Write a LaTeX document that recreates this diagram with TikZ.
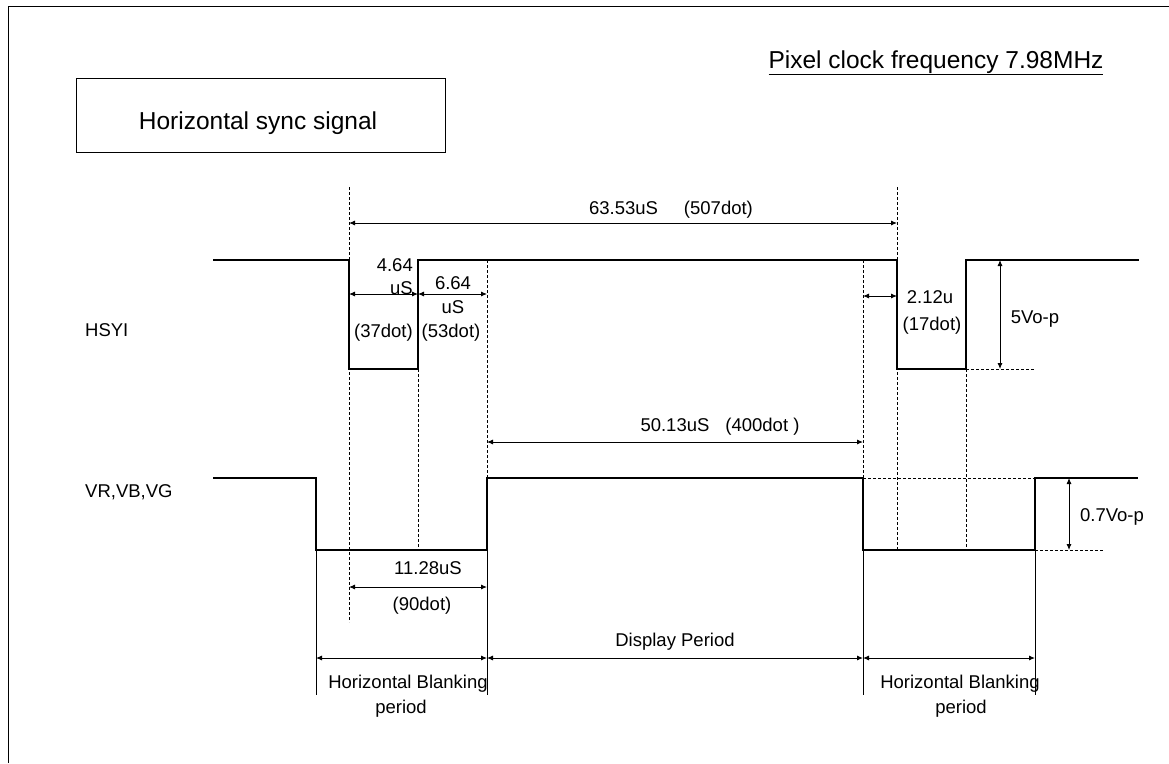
\documentclass[tikz,border=0pt]{standalone}
\usepackage{fontspec}
\setmainfont{Liberation Sans}
\usetikzlibrary{arrows.meta}

\begin{document}
\begin{tikzpicture}[x=1pt, y=-1pt,
          wave/.style={line width=1.8pt},
          guide/.style={line width=0.8pt, dash pattern=on 3pt off 2pt},
          thin/.style={line width=0.9pt},
          dimline/.style={line width=0.9pt,
            {Latex[length=6pt,width=5pt]}-{Latex[length=6pt,width=5pt]}},
          lbl/.style={font=\fontsize{18.5}{23}\selectfont, inner sep=0pt},
          big/.style={font=\fontsize{24.5}{29}\selectfont, inner sep=0pt},
        ]
          \useasboundingbox (0,0) rectangle (1169,763);
          \draw[line width=1pt] (8,763) -- (8,6) -- (1169,6);

          % title and clock
          \node[draw, line width=1pt, minimum width=369pt, minimum height=74pt] (titlebox) at (260.5,115) {};
          \node[big, anchor=base] (title) at (258,129) {Horizontal sync signal};
          \node[big, anchor=base] (clock) at (936,68) {\underline{Pixel clock frequency 7.98MHz}};

          % signal names
          \node[lbl, anchor=base west] (hsyi) at (85,336) {HSYI};
          \node[lbl, anchor=base west] (vrgb) at (85,497) {VR,VB,VG};

          % HSYI
          \coordinate (hA) at ( 213, 260);
          \coordinate (hB) at ( 349, 369);
          \coordinate (hC) at ( 418, 260);
          \coordinate (hD) at ( 897, 369);
          \coordinate (hE) at ( 966, 260);
          \coordinate (hF) at (1139, 260);
          \draw[wave] (hA) -| (hB) -| (hC) -| (hD) -| (hE) -- (hF);

          % VR,VB,VG
          \coordinate (vA) at ( 213, 478);
          \coordinate (vB) at ( 316, 550);
          \coordinate (vC) at ( 487, 478);
          \coordinate (vD) at ( 863, 550);
          \coordinate (vE) at (1035, 478);
          \coordinate (vF) at (1138, 478);
          \draw[wave] (vA) -| (vB) -| (vC) -| (vD) -| (vE) -- (vF);

          % dashed guides
          \draw[guide] (349,187) -- (349,622);
          \draw[guide] (418,369) -- (418,550);
          \draw[guide] (487,260) -- (487,478);
          \draw[guide] (863,260) -- (863,478);
          \draw[guide] (897,187) -- (897,550);
          \draw[guide] (966,369) -- (966,550);
          \draw[guide] (hD -| hE) -- (1035,369);
          \draw[guide] (863,478) -- (vE);
          \draw[guide] (1035,550) -- (1103,550);

          % period marks
          \coordinate (b1) at ( 316, 695);
          \coordinate (b2) at ( 487, 695);
          \coordinate (b3) at ( 863, 695);
          \coordinate (b4) at (1035, 695);
          \draw[thin] (vB) -- (b1);
          \draw[thin] (vC) -- (b2);
          \draw[thin] (vD) -- (b3);
          \draw[thin] (1035,550) -- (b4);

          % dimensions
          \draw[dimline] (349,223) -- (897,223);
          \draw[dimline] (349,294) -- (418,294);
          \draw[dimline] (418,294) -- (487,294);
          \draw[dimline] (863,296) -- (897,296);
          \draw[dimline] (1000,260) -- (1000,369);
          \draw[dimline] (487,442) -- (863,442);
          \draw[dimline] (349,587) -- (487,587);
          \draw[dimline] (1069,478) -- (1069,550);
          \draw[dimline] (316,658) -- (487,658);
          \draw[dimline] (487,658) -- (863,658);
          \draw[dimline] (863,658) -- (1035,658);

          \node[lbl, anchor=base] (t6353) at (671,214) {63.53uS\hspace{26pt}(507dot)};
          \node[lbl, anchor=base east] (t464a) at (413,271.6) {4.64};
          \node[lbl, anchor=base east] (t464b) at (413,294.6) {uS};
          \node[lbl, anchor=base east] (t37) at (413,337) {(37dot)};
          \node[lbl, anchor=base] (t664a) at (453,289.6) {6.64};
          \node[lbl, anchor=base] (t664b) at (453,313.6) {uS};
          \node[lbl, anchor=base] (t53) at (451,337) {(53dot)};
          \node[lbl, anchor=base] (t212) at (930,303.6) {2.12u};
          \node[lbl, anchor=base] (t17) at (932,330) {(17dot)};
          \node[lbl, anchor=base] (t5v) at (1035,323.6) {5Vo-p};
          \node[lbl, anchor=base] (t5013) at (720,431.6) {50.13uS\hspace{16pt}(400dot )};
          \node[lbl, anchor=base] (t07) at (1112,521.6) {0.7Vo-p};
          \node[lbl, anchor=base] (t1128) at (428,574.6) {11.28uS};
          \node[lbl, anchor=base] (t90) at (422,610) {(90dot)};
          \node[lbl, anchor=base] (tdisp) at (675,646.6) {Display Period};
          \node[lbl, anchor=base] (thb1) at (408,688.6) {Horizontal Blanking};
          \node[lbl, anchor=base] (tp1) at (401,713) {period};
          \node[lbl, anchor=base] (thb2) at (960,688.6) {Horizontal Blanking};
          \node[lbl, anchor=base] (tp2) at (961,713) {period};
        \end{tikzpicture}
\end{document}
